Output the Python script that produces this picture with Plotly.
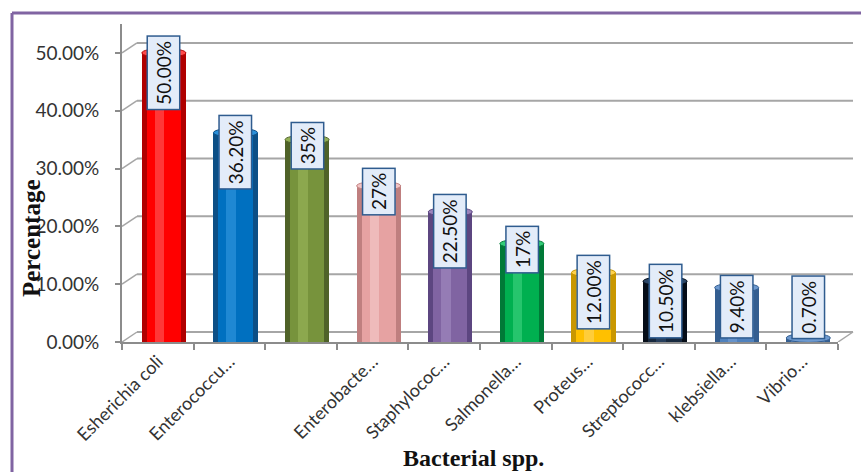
import plotly.graph_objects as go

# Isolation rates of bacterial species
species = ["Esherichia coli", "Enterococcu…", "", "Enterobacte…", "Staphylococ…",
           "Salmonella…", "Proteus…", "Streptococc…", "klebsiella…", "Vibrio…"]
rates = [0.50, 0.362, 0.35, 0.27, 0.225, 0.17, 0.12, 0.105, 0.094, 0.007]
value_labels = ["50.00%", "36.20%", "35%", "27%", "22.50%", "17%",
                "12.00%", "10.50%", "9.40%", "0.70%"]
y_ticks = [0.0, 0.1, 0.2, 0.3, 0.4, 0.5]

# per-bar shading: (edge, body, highlight)
palette = [
    ("#B00000", "#FF0000", "#FF4A4A"),
    ("#0C4F86", "#0070C0", "#2A90DA"),
    ("#4F6228", "#77933C", "#93B055"),
    ("#BF7F7F", "#E6A2A2", "#F3C4C4"),
    ("#5C4680", "#8064A2", "#9C84BC"),
    ("#007A37", "#00B050", "#33CC77"),
    ("#C99700", "#FFC000", "#FFD24D"),
    ("#050D18", "#17293F", "#2C4666"),
    ("#345E90", "#4F81BD", "#6E9AD0"),
    ("#345E90", "#4F81BD", "#6E9AD0"),
]

# plot-area geometry (pixels)
W, H = 861, 472
ML, MR, MT, MB = 122, 23, 24, 130
YMAX = 0.55
plot_h = H - MT - MB
plot_w = W - ML - MR
S = plot_h / YMAX            # pixels per unit on the value axis
n = len(species)
xs = list(range(n))
shift = 0.085                # cylinders sit a little behind the front axis
bw = 0.615                   # cylinder width (category units)
depth_dx, depth_dy = 15, 10  # perspective offset of the back wall

fig = go.Figure()

layers = [(bw, 0), (bw * 0.78, 1), (bw * 0.22, 2)]
for w, k in layers:
    fig.add_trace(go.Bar(
        x=xs, y=rates, width=w,
        offset=-w / 2 + shift - (0.06 if k == 2 else 0),
        marker=dict(color=[p[k] for p in palette], line=dict(width=0)),
        opacity=1.0 if k < 2 else 0.75,
        hoverinfo="skip", showlegend=False,
    ))

shapes = []
grid_c = "#A6A6A6"
dxp = depth_dx / plot_w
dyv = depth_dy / S
# back-wall gridlines and their perspective connectors
for v in y_ticks:
    shapes.append(dict(type="line", xref="paper", yref="y", layer="below",
                       x0=dxp, x1=1 + 15 / plot_w, y0=v + dyv, y1=v + dyv,
                       line=dict(color=grid_c, width=2)))
    shapes.append(dict(type="line", xref="paper", yref="y", layer="below",
                       x0=0, x1=dxp, y0=v, y1=v + dyv,
                       line=dict(color=grid_c, width=1.5)))
shapes.append(dict(type="line", xref="paper", yref="y", layer="below",
                   x0=1, x1=1 + 15 / plot_w, y0=0, y1=dyv,
                   line=dict(color=grid_c, width=1.5)))

# elliptical cylinder tops
eh = 9 / S
for x, v, p in zip(xs, rates, palette):
    shapes.append(dict(type="circle", xref="x", yref="y", layer="above",
                       x0=x + shift - bw / 2, x1=x + shift + bw / 2,
                       y0=v - eh / 2, y1=v + eh / 2,
                       fillcolor=p[2], line=dict(color=p[0], width=1)))

# outer frame: top and left edges of the chart border
frame_x = (12 - ML) / plot_w
frame_y = (H - MB - 13) / plot_h
shapes.append(dict(type="line", xref="paper", yref="paper", layer="above",
                   x0=frame_x, x1=(W - ML + 5) / plot_w, y0=frame_y, y1=frame_y,
                   line=dict(color="#8064A2", width=3)))
shapes.append(dict(type="line", xref="paper", yref="paper", layer="above",
                   x0=frame_x, x1=frame_x, y0=frame_y, y1=-(MB + 5) / plot_h,
                   line=dict(color="#8064A2", width=3)))

annotations = []
# value labels in boxes, rotated to read upwards
for x, v, t in zip(xs, rates, value_labels):
    box_len = 11 * len(t) + 16
    common = dict(x=x + shift, xref="x", yref="y", text=t, textangle=-90,
                  showarrow=False, font=dict(family="Lato", size=19, color="#111111"),
                  bgcolor="#E3ECF9", bordercolor="#2F5C8F", borderwidth=1.5,
                  borderpad=4, xanchor="center")
    if v * S < box_len - 16:
        annotations.append(dict(common, y=0, yanchor="bottom", yshift=3))
    else:
        annotations.append(dict(common, y=v, yanchor="top", yshift=18))

# axis titles
annotations.append(dict(text="<b>Percentage</b>", textangle=-90, showarrow=False,
                        xref="paper", yref="paper",
                        x=(31 - ML) / plot_w, y=(H - MB - 238) / plot_h,
                        xanchor="center", yanchor="middle",
                        font=dict(family="Liberation Serif", size=25, color="#111111")))
annotations.append(dict(text="<b>Bacterial spp.</b>", showarrow=False,
                        xref="paper", yref="paper",
                        x=(473 - ML) / plot_w, y=(H - MB - 458) / plot_h,
                        xanchor="center", yanchor="middle",
                        font=dict(family="Liberation Serif", size=24, color="#111111")))

fig.update_layout(
    width=W, height=H,
    margin=dict(l=ML, r=MR, t=MT, b=MB),
    paper_bgcolor="white", plot_bgcolor="white",
    barmode="overlay", bargap=0,
    shapes=shapes, annotations=annotations,
    xaxis=dict(range=[-0.5, n - 0.5], tickmode="array", tickvals=xs, ticktext=species,
               tickangle=-45, ticks="", showgrid=False, zeroline=False,
               showline=True, linecolor="#8C8C8C", linewidth=2,
               tickfont=dict(family="Lato", size=18, color="#333333"),
               minor=dict(tick0=-0.5, dtick=1, ticks="outside", ticklen=6,
                          tickcolor="#8C8C8C", tickwidth=2, showgrid=False)),
    yaxis=dict(range=[0, YMAX], tickmode="array", tickvals=y_ticks, tickformat=".2%",
               ticks="outside", ticklen=5, tickcolor="#8C8C8C", tickwidth=2,
               showgrid=False, zeroline=False, showline=True,
               linecolor="#8C8C8C", linewidth=2, ticklabelstandoff=12,
               tickfont=dict(family="Lato", size=19, color="#333333")),
)

fig.write_html("out.html")
